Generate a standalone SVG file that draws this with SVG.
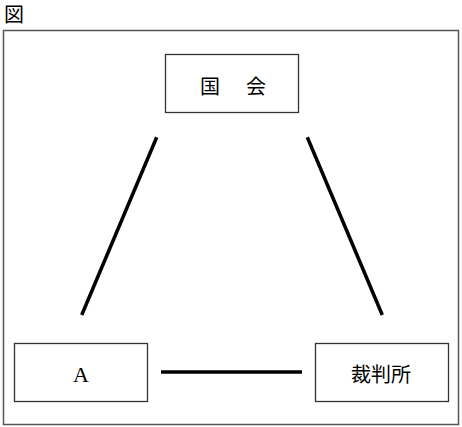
<svg xmlns="http://www.w3.org/2000/svg" width="462" height="427" viewBox="0 0 462 427">
<style>
.box{fill:#fff;stroke:#333;stroke-width:1.3}
.frame{fill:none;stroke:#555;stroke-width:1.5}
.conn{stroke:#000;stroke-width:3.5;stroke-linecap:butt}
.jp{font-family:"Noto Sans CJK JP","Noto Sans CJK SC",sans-serif;font-size:20px;fill:#000}
.lat{font-family:"Liberation Serif",serif;font-size:22px;fill:#000}
</style>
<rect width="462" height="427" fill="#fff"/>
<text x="4" y="22" class="jp" font-size="16">図</text>
<rect class="frame" x="3.5" y="30.5" width="455" height="394"/>
<g id="connectors">
<line class="conn" x1="156.7" y1="137.3" x2="81.7" y2="315"/>
<line class="conn" x1="307.3" y1="137.3" x2="382.3" y2="315"/>
<line class="conn" x1="161" y1="372" x2="302" y2="372"/>
</g>
<g id="kokkai">
<rect class="box" x="165.5" y="54.5" width="133" height="58"/>
<text x="210" y="94" class="jp" text-anchor="middle">国</text>
<text x="256" y="94" class="jp" text-anchor="middle">会</text>
</g>
<g id="A">
<rect class="box" x="14.5" y="343.5" width="133" height="58"/>
<text x="81" y="382" class="lat" text-anchor="middle">A</text>
</g>
<g id="saibansho">
<rect class="box" x="315.5" y="343.5" width="133" height="58"/>
<text x="381" y="382" class="jp" text-anchor="middle">裁判所</text>
</g>
</svg>
